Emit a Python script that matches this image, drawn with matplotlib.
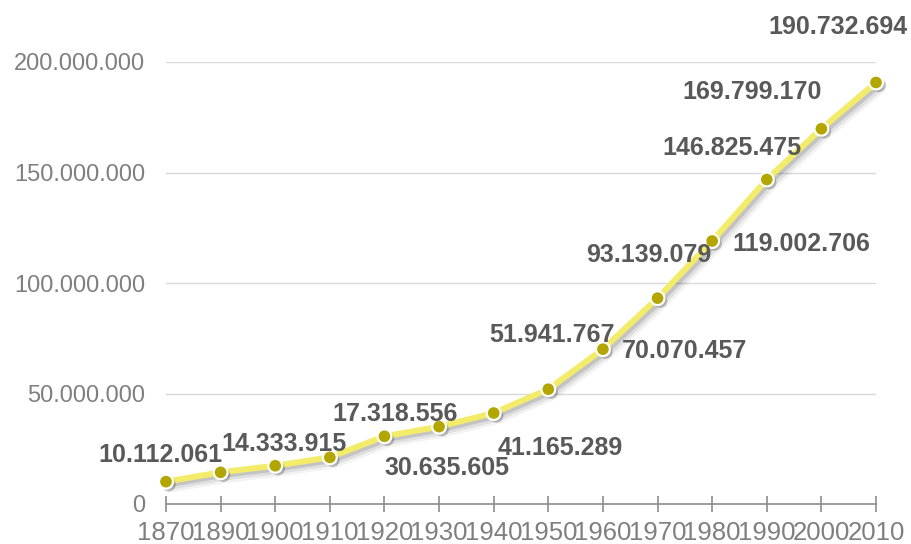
import matplotlib
matplotlib.use("Agg")
import matplotlib.pyplot as plt
import matplotlib.patheffects as pe
from matplotlib.ticker import FuncFormatter

# Census years on the category axis and population counts
years = ["1870", "1890", "1900", "1910", "1920", "1930", "1940",
         "1950", "1960", "1970", "1980", "1990", "2000", "2010"]
population = [10112061, 14333915, 17318556, 21100000, 30635605, 35000000,
              41165289, 51941767, 70070457, 93139079, 119002706,
              146825475, 169799170, 190732694]
# Which points carry a value label
labelled = [True, True, True, False, True, False, True,
            True, True, True, True, True, True, True]
# Label offsets from their points, in pixels (dx right, dy up)
label_offsets = [(-6, 27), (63, 28), (120, 52), (0, 0), (63, -32), (0, 0),
                 (67, -35), (4, 54), (82, -2), (-9, 43), (89, -3),
                 (-35, 32), (-69, 37), (-38, 55)]
y_ticks = [0, 50000000, 100000000, 150000000, 200000000]

W, H, DPI = 912, 544, 100
fig = plt.figure(figsize=(W / DPI, H / DPI), dpi=DPI)
fig.patch.set_facecolor("white")
ax = fig.add_axes([166 / W, (H - 504) / H, (876 - 166) / W, (504 - 62) / H])

font = "Liberation Sans"
x = list(range(len(years)))

ax.set_xlim(0, len(years) - 1)
ax.set_ylim(0, 200000000)

# Gridlines
for t in y_ticks[1:]:
    ax.axhline(t, color="#d9d9d9", lw=1.0, zorder=0)

# Soft shadow under the line (layered)
shadow_fx = [
    pe.SimpleLineShadow(offset=(2.8, -2.8), shadow_color="#000000", alpha=0.05, linewidth=10),
    pe.SimpleLineShadow(offset=(2.4, -2.4), shadow_color="#000000", alpha=0.08, linewidth=7),
    pe.SimpleLineShadow(offset=(2.0, -2.0), shadow_color="#000000", alpha=0.12, linewidth=4),
    pe.Normal(),
]
ax.plot(x, population, color="#f2ec6a", lw=4.3, solid_capstyle="round",
        path_effects=shadow_fx, zorder=3, clip_on=False)

marker_fx = [
    pe.SimplePatchShadow(offset=(2, -2), shadow_rgbFace="#000000", alpha=0.22),
    pe.Normal(),
]
ax.plot(x, population, ls="none", marker="o", ms=10, mfc="#b3a600",
        mec="white", mew=1.6, zorder=4, clip_on=False, path_effects=marker_fx)

# Value labels
def fmt(v):
    return f"{v:,}".replace(",", ".")

for xi, v, show, (dx, dy) in zip(x, population, labelled, label_offsets):
    if not show:
        continue
    ax.annotate(fmt(v), xy=(xi, v), xytext=(dx * 72 / DPI, dy * 72 / DPI),
                textcoords="offset points", ha="center", va="center",
                fontsize=18, fontweight="bold", color="#595959",
                family=font, zorder=5, annotation_clip=False)

# Axes styling
for s in ["left", "right", "top"]:
    ax.spines[s].set_visible(False)
ax.spines["bottom"].set_color("#8c8c8c")
ax.spines["bottom"].set_linewidth(1.2)

ax.set_yticks(y_ticks)
ax.yaxis.set_major_formatter(FuncFormatter(lambda v, p: fmt(int(v))))
ax.tick_params(axis="y", length=0, pad=15, labelsize=17, labelcolor="#7f7f7f")

ax.set_xticks(x)
ax.set_xticklabels(years)
ax.tick_params(axis="x", direction="inout", length=11, width=1.2,
               color="#8c8c8c", pad=7, labelsize=18.5, labelcolor="#7f7f7f")

for lbl in ax.get_xticklabels() + ax.get_yticklabels():
    lbl.set_family(font)

fig.savefig("out.png", dpi=DPI, facecolor="white")
